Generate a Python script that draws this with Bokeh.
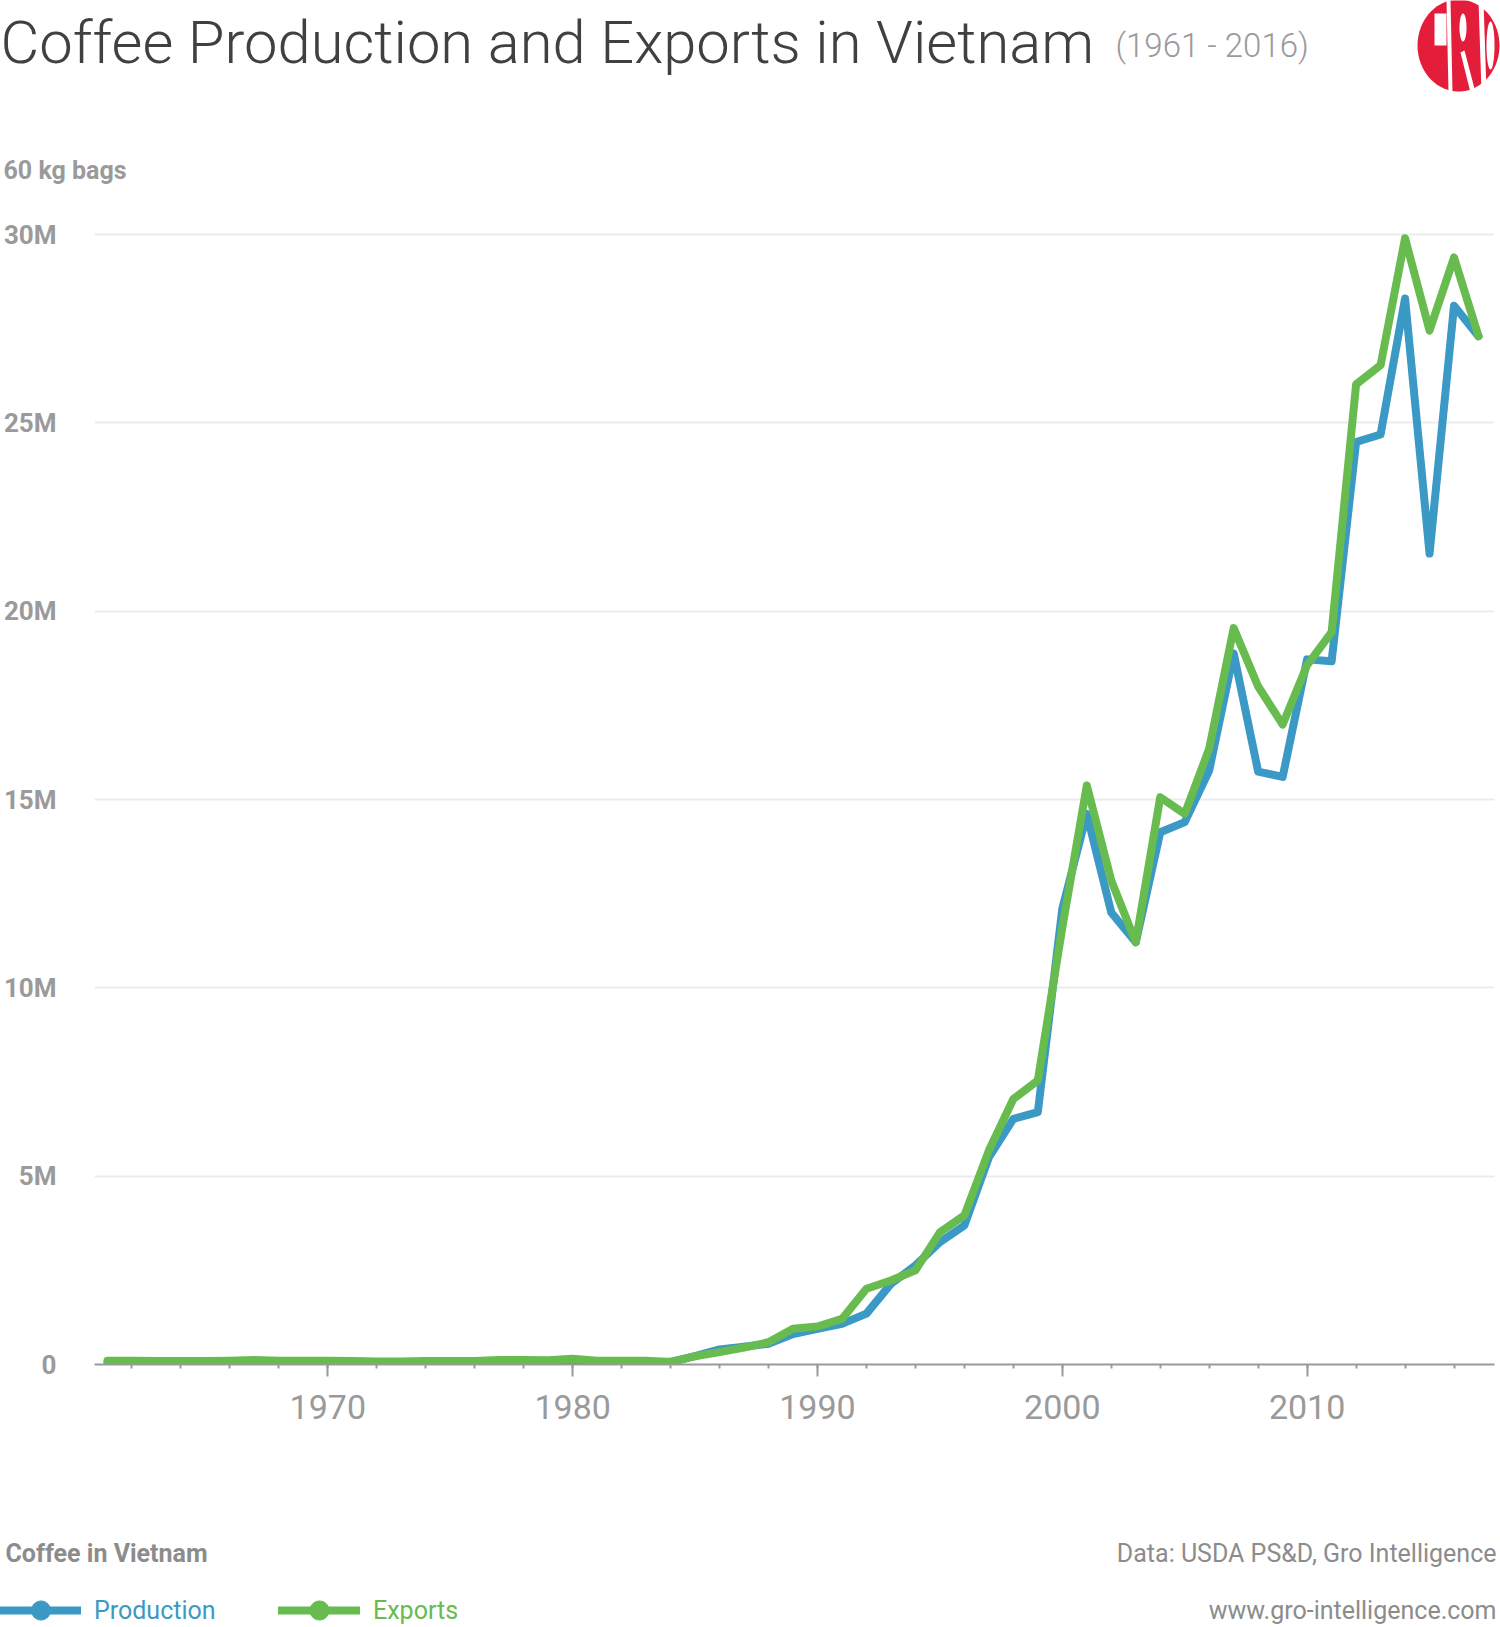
import numpy as np
from bokeh.plotting import figure
from bokeh.layouts import column, row
from bokeh.models import Label, Legend, LegendItem, FixedTicker, PolyAnnotation, Range1d
from bokeh.embed import file_html
from bokeh.resources import INLINE

# ---------------- data (millions of 60 kg bags) ----------------
years = list(range(1961, 2018))
production = [
    0.05, 0.05, 0.05, 0.04, 0.05, 0.06, 0.07, 0.05, 0.05, 0.05,
    0.04, 0.04, 0.04, 0.05, 0.05, 0.05, 0.06, 0.07, 0.07, 0.10,
    0.06, 0.06, 0.07, 0.07, 0.22, 0.40, 0.47, 0.55, 0.81, 0.95,
    1.08, 1.35, 2.14, 2.63, 3.25, 3.69, 5.50, 6.52, 6.70, 12.1,
    14.62, 12.0, 11.21, 14.13, 14.4, 15.77, 18.88, 15.74, 15.6, 18.72,
    18.67, 24.49, 24.69, 28.3, 21.53, 28.11, 27.3,
]
exports = [
    0.10, 0.10, 0.09, 0.09, 0.09, 0.10, 0.12, 0.10, 0.10, 0.10,
    0.09, 0.08, 0.08, 0.09, 0.09, 0.09, 0.12, 0.12, 0.11, 0.15,
    0.10, 0.10, 0.10, 0.06, 0.22, 0.33, 0.45, 0.59, 0.95, 1.01,
    1.21, 2.01, 2.23, 2.50, 3.51, 3.96, 5.68, 7.05, 7.54, 11.6,
    15.37, 12.85, 11.21, 15.06, 14.62, 16.35, 19.55, 18.0, 16.99, 18.57,
    19.44, 26.02, 26.53, 29.9, 27.45, 29.39, 27.3,
]
x_major_ticks = [1970, 1980, 1990, 2000, 2010]
x_tick_labels = ["1970", "1980", "1990", "2000", "2010"]
x_minor_ticks = list(range(1962, 2018, 2))
y_tick_values = [0, 5, 10, 15, 20, 25, 30]
y_tick_labels = ["0", "5M", "10M", "15M", "20M", "25M", "30M"]

# ---------------- layout constants (page pixels) ----------------
W, H = 1500, 1627
HH = 195              # header height
FOOT_TOP = 1460       # footer starts here
FH = H - FOOT_TOP     # footer height
MH = FOOT_TOP - HH    # main figure height
FL, FR, FT, FB = 93, 1494, 215, 1364   # frame edges of main chart
PX_PER_YEAR = 24.5
x0 = 1970 - (326.5 - FL) / PX_PER_YEAR
x1 = x0 + (FR - FL) / PX_PER_YEAR
px_per_m = (FB - 234) / 30.0
y_top = (FB - FT) / px_per_m

BLUE = "#3b99c5"
GREEN = "#67bb4f"
GREY = "#9a9a9a"
FOOT_GREY = "#8c8c8c"
FONT = "Roboto"
LW = 8

# ---------------- main chart ----------------
p = figure(width=W, height=MH, output_backend="svg", toolbar_location=None,
           x_range=Range1d(x0, x1), y_range=Range1d(0, y_top),
           min_border_left=FL, min_border_right=W - FR,
           min_border_top=FT - HH, min_border_bottom=FOOT_TOP - FB)
p.outline_line_color = None
p.background_fill_color = "white"
p.border_fill_color = "white"

p.xgrid.visible = False
p.ygrid.grid_line_color = "#ececec"
p.ygrid.grid_line_width = 2
p.ygrid.ticker = FixedTicker(ticks=y_tick_values)

xa = p.xaxis[0]
xa.ticker = FixedTicker(ticks=x_major_ticks, minor_ticks=x_minor_ticks)
xa.major_label_overrides = dict(zip(x_major_ticks, x_tick_labels))
xa.axis_line_color = GREY
xa.axis_line_width = 2
xa.major_tick_line_color = GREY
xa.major_tick_line_width = 2
xa.major_tick_out = 12
xa.major_tick_in = 0
xa.minor_tick_line_color = GREY
xa.minor_tick_line_width = 2
xa.minor_tick_out = 4
xa.minor_tick_in = 0
xa.major_label_text_font = FONT
xa.major_label_text_font_size = "34px"
xa.major_label_text_color = GREY
xa.major_label_standoff = 18

ya = p.yaxis[0]
ya.ticker = FixedTicker(ticks=y_tick_values)
ya.major_label_overrides = dict(zip(y_tick_values, y_tick_labels))
ya.axis_line_color = None
ya.major_tick_line_color = None
ya.minor_tick_line_color = None
ya.major_tick_out = 0
ya.major_tick_in = 0
ya.minor_tick_out = 0
ya.minor_tick_in = 0
ya.major_label_text_font = FONT
ya.major_label_text_font_size = "26px"
ya.major_label_text_font_style = "bold"
ya.major_label_text_color = GREY
ya.major_label_standoff = 38

p.line(years, production, line_width=LW, line_color=BLUE,
       line_join="round", line_cap="round")
p.line(years, exports, line_width=LW, line_color=GREEN,
       line_join="round", line_cap="round")


def blank_fig(h):
    f = figure(width=W, height=h, output_backend="svg", toolbar_location=None,
               x_range=Range1d(0, W), y_range=Range1d(0, h),
               x_axis_location=None, y_axis_location=None, min_border=0,
               min_border_left=0, min_border_right=0,
               min_border_top=0, min_border_bottom=0)
    f.grid.visible = False
    f.outline_line_color = None
    f.background_fill_color = "white"
    f.border_fill_color = "white"
    return f


def lab(fig, top, h, text, rx, ry, size, color, align="left",
        baseline="middle", style="normal", font=FONT):
    fig.add_layout(Label(x=rx, y=h - (ry - top), x_units="screen", y_units="screen",
                         text=text, text_font=font, text_font_size=f"{size}px",
                         text_color=color, text_align=align, text_baseline=baseline,
                         text_font_style=style))


# ---------------- header ----------------
hdr = blank_fig(HH)
lab(hdr, 0, HH, "Coffee Production and Exports in Vietnam", 0, 42, 59.7, "#404040",
    baseline="alphabetic", font="Roboto Light")
lab(hdr, 0, HH, "(1961 - 2016)", 1115, 45, 33, GREY,
    baseline="alphabetic", font="Roboto Light")
lab(hdr, 0, HH, "60 kg bags", 3, 170, 25, GREY, baseline="alphabetic", style="bold")


def poly(xs_ref, ys_ref, color):
    hdr.add_layout(PolyAnnotation(xs=list(xs_ref), ys=[HH - v for v in ys_ref],
                                  xs_units="screen", ys_units="screen",
                                  fill_color=color, fill_alpha=1, line_color=None))


def ellipse(cx, cy, rx, ry, color):
    t = np.linspace(0, 2 * np.pi, 72)
    poly(cx + rx * np.cos(t), cy + ry * np.sin(t), color)


RED = "#e41d3b"
ellipse(1458, 45, 41, 46, RED)
poly([1434, 1446, 1446, 1434], [13, 13, 45, 45], "white")
poly([1446, 1450, 1452, 1448], [0, 0, 92, 92], "white")
poly([1478, 1483, 1486, 1481], [0, 0, 92, 92], "white")
ellipse(1490, 45, 4, 24, "white")
ellipse(1462.5, 27, 3.5, 14, "white")
poly([1460, 1464, 1475, 1470], [52, 50, 92, 92], "white")

# ---------------- footer ----------------
ftr = blank_fig(FH)
lab(ftr, FOOT_TOP, FH, "Coffee in Vietnam", 5, 1553, 25, FOOT_GREY, style="bold")
lab(ftr, FOOT_TOP, FH, "Data: USDA PS&D, Gro Intelligence", 1496, 1553, 25, FOOT_GREY,
    align="right")
lab(ftr, FOOT_TOP, FH, "www.gro-intelligence.com", 1496, 1610, 25, FOOT_GREY,
    align="right")

nan = float("nan")
lp = ftr.line([nan], [nan], line_width=LW, line_color=BLUE, line_cap="round")
mp = ftr.scatter([nan], [nan], marker="circle", fill_color=BLUE, line_color=BLUE)
le = ftr.line([nan], [nan], line_width=LW, line_color=GREEN, line_cap="round")
me = ftr.scatter([nan], [nan], marker="circle", fill_color=GREEN, line_color=GREEN)


def make_legend(label, rends, color, rx, glyph_w, standoff):
    gh = 48
    bottom_ref = 1610 + gh / 2
    lg = Legend(items=[LegendItem(label=label, renderers=rends)],
                location=(rx, FH - (bottom_ref - FOOT_TOP)), orientation="horizontal",
                glyph_width=glyph_w, glyph_height=gh, label_standoff=standoff,
                label_text_color=color, label_text_font=FONT,
                label_text_font_size="25px", padding=0, margin=0, spacing=0,
                border_line_alpha=0, background_fill_alpha=0)
    ftr.add_layout(lg)


make_legend("Production", [lp, mp], BLUE, 0, 81, 13)
make_legend("Exports", [le, me], GREEN, 278, 82, 13)

layout = column(row(hdr, spacing=0), p, row(ftr, spacing=0), spacing=0)
open("out.html", "w").write(file_html(layout, INLINE))
